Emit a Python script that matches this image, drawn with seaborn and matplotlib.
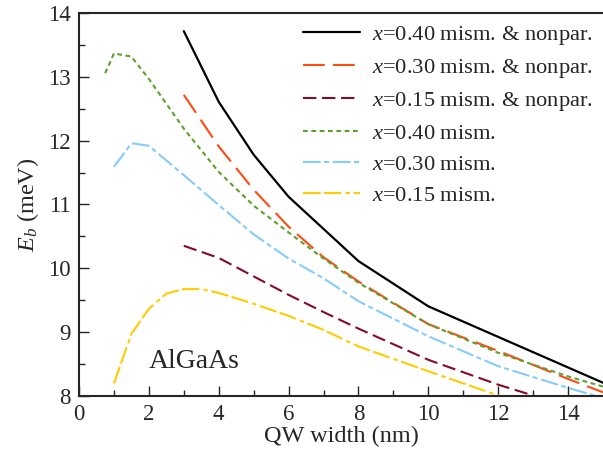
import numpy as np
import pandas as pd
import matplotlib
matplotlib.use("Agg")
import matplotlib.pyplot as plt
import seaborn as sns

# Exciton binding energy vs. quantum-well width, AlGaAs barriers
labels = [
    r"$x$=0.40 mism. & nonpar.",
    r"$x$=0.30 mism. & nonpar.",
    r"$x$=0.15 mism. & nonpar.",
    r"$x$=0.40 mism.",
    r"$x$=0.30 mism.",
    r"$x$=0.15 mism.",
]

w_040_np = [3, 4, 5, 6, 8, 10, 15]
eb_040_np = [13.72, 12.61, 11.78, 11.12, 10.11, 9.40, 8.20]

w_030_np = [3, 4, 5, 6, 7, 8, 10, 12, 14, 15]
eb_030_np = [12.72, 11.91, 11.23, 10.65, 10.17, 9.79, 9.12, 8.70, 8.26, 8.05]

w_015_np = [3, 4, 5, 6, 7, 8, 10, 12, 15]
eb_015_np = [10.35, 10.16, 9.87, 9.58, 9.31, 9.05, 8.56, 8.17, 7.66]

w_040 = [0.75, 1, 1.5, 2, 3, 4, 5, 6, 7, 8, 10, 12, 14, 15]
eb_040 = [13.06, 13.37, 13.32, 12.97, 12.19, 11.51, 10.98, 10.56, 10.15, 9.77,
          9.12, 8.67, 8.30, 8.14]

w_030 = [1, 1.5, 2, 3, 4, 5, 6, 7, 8, 10, 12, 14, 15]
eb_030 = [11.59, 11.96, 11.92, 11.46, 10.99, 10.53, 10.15, 9.84, 9.48, 8.93,
          8.46, 8.12, 7.96]

w_015 = [1, 1.5, 2, 2.5, 3, 3.5, 4, 5, 6, 7, 8, 10, 12, 15]
eb_015 = [8.19, 8.97, 9.36, 9.60, 9.67, 9.67, 9.61, 9.44, 9.25, 9.03, 8.77,
          8.38, 8.00, 7.45]

xticks = [0, 2, 4, 6, 8, 10, 12, 14]
yticks = [8, 9, 10, 11, 12, 13, 14]

colors = ["#000000", "#FF4A14", "#850A2A", "#5DA02C", "#87CBFA", "#FFCC00"]
dash_styles = [
    "",
    (15.6, 6.0),
    (9.6, 4.1),
    (3.4, 2.6),
    (12.7, 2.5, 3.6, 2.7),
    (12.7, 2.4, 12.5, 3.1, 3.1, 2.7),
]
widths = [1.6, 1.5, 1.5, 1.5, 1.5, 1.5]

series = [
    (w_040_np, eb_040_np), (w_030_np, eb_030_np), (w_015_np, eb_015_np),
    (w_040, eb_040), (w_030, eb_030), (w_015, eb_015),
]
frames = []
for lab, (w, e) in zip(labels, series):
    frames.append(pd.DataFrame({"width": w, "Eb": e, "series": lab}))
df = pd.concat(frames, ignore_index=True)

sns.set_style("ticks")
plt.rcParams["font.family"] = ["Liberation Serif", "DejaVu Serif"]
plt.rcParams["mathtext.fontset"] = "custom"
plt.rcParams["mathtext.rm"] = "Liberation Serif"
plt.rcParams["mathtext.it"] = "Liberation Serif:italic"
plt.rcParams["lines.scale_dashes"] = False

fig = plt.figure(figsize=(6.03, 4.5), dpi=100)
ax = fig.add_axes([79 / 603, 1 - 395.5 / 450, 1 - 79 / 603, (395.5 - 13.3) / 450])

sns.lineplot(
    data=df, x="width", y="Eb", hue="series", style="series",
    hue_order=labels, style_order=labels,
    palette=dict(zip(labels, colors)),
    dashes=dict(zip(labels, dash_styles)),
    estimator=None, sort=False, legend=False, ax=ax,
)
for line, lw in zip(ax.lines, widths):
    line.set_linewidth(lw)

ax.set_xlim(0, 15)
ax.set_ylim(8, 14)
ax.set_xticks(xticks)
ax.set_yticks(yticks)
ax.set_xticks(np.arange(1, 15, 2), minor=True)
ax.set_yticks(np.arange(8.5, 14, 1.0), minor=True)
ax.tick_params(which="both", direction="in", width=1.0, labelsize=16.5, pad=6,
               top=False, right=False)
ax.tick_params(which="major", length=7)
ax.tick_params(which="minor", length=4)
for side in ["left", "bottom", "top"]:
    ax.spines[side].set_linewidth(1.5)
ax.spines["right"].set_visible(False)

ax.set_xlabel("QW width (nm)", fontsize=17.5, labelpad=1)
ax.set_ylabel(r"$E_b$ (meV)", fontsize=17.5, labelpad=5)

ax.text(1.99, 8.43, "AlGaAs", fontsize=20, ha="left", va="baseline")

ax.legend(
    ax.lines, labels, loc="upper left", bbox_to_anchor=(303 / 603, 1 - 24 / 450),
    bbox_transform=fig.transFigure, frameon=False, fontsize=16.2,
    handlelength=2.55, handletextpad=0.5, labelspacing=0.45,
    borderpad=0, borderaxespad=0,
)

fig.savefig("out.png", dpi=100)
